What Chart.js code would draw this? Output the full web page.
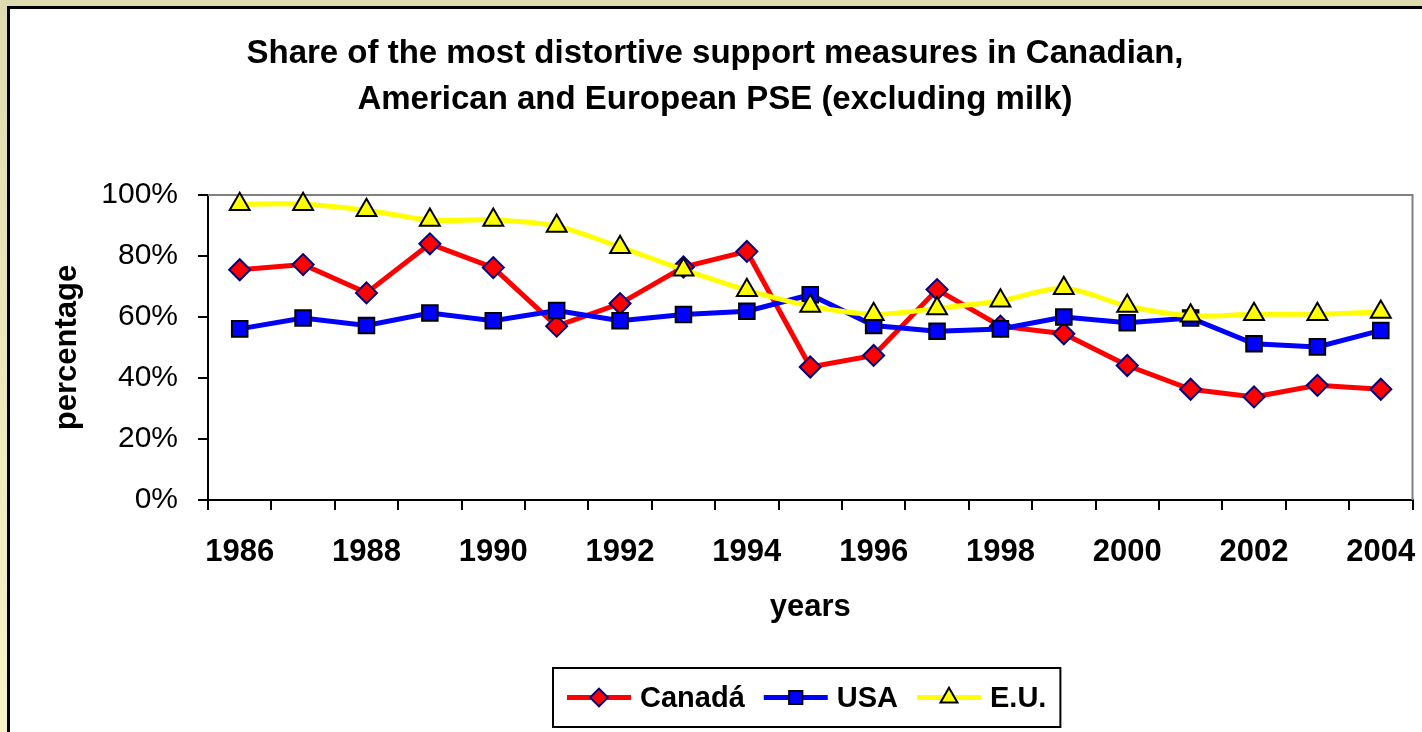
<!DOCTYPE html>
<html>
<head>
<meta charset="utf-8">
<script src="https://cdn.jsdelivr.net/npm/chart.js@4/dist/chart.umd.min.js"></script>
<style>
  html, body { margin: 0; padding: 0; overflow: hidden; }
  body { width: 1422px; height: 732px; background: linear-gradient(#dfdbb0, #f6f4c8); }
  #panel { position: absolute; left: 7px; top: 6px; width: 1440px; height: 760px; background: #fff; border: 3px solid #000; }
  #chart { position: absolute; left: 0; top: 0; }
</style>
</head>
<body>
<div id="panel"><canvas id="chart" width="1416" height="723"></canvas></div>
<script>
const years = ['1986', '1987', '1988', '1989', '1990', '1991', '1992', '1993', '1994', '1995',
               '1996', '1997', '1998', '1999', '2000', '2001', '2002', '2003', '2004'];
const canada = [75.5, 77.2, 67.9, 84.0, 76.2, 57.0, 64.4, 76.4, 81.5, 43.6,
                47.4, 69.0, 57.0, 54.5, 44.1, 36.3, 33.8, 37.6, 36.3];
const usa = [56.1, 59.7, 57.2, 61.3, 58.8, 62.1, 58.8, 60.8, 61.9, 67.3,
             57.2, 55.3, 56.1, 60.0, 58.1, 59.7, 51.2, 50.2, 55.6];
const eu = [97.0, 97.0, 95.0, 91.8, 91.8, 89.8, 82.9, 75.5, 68.8, 63.6,
            60.9, 62.8, 65.3, 69.4, 63.6, 60.4, 60.9, 60.9, 61.6];

const FONT = '"Liberation Sans", Arial, sans-serif';

// bordure grise du plot area (haut et droite), les axes noirs passent par-dessus
const plotBorder = {
  id: 'plotBorder',
  beforeDatasetsDraw(chart) {
    const {ctx, chartArea: a} = chart;
    ctx.save();
    ctx.strokeStyle = '#808080';
    ctx.lineWidth = 2;
    ctx.beginPath();
    ctx.moveTo(a.left, a.top);
    ctx.lineTo(a.right, a.top);
    ctx.lineTo(a.right, a.bottom);
    ctx.stroke();
    ctx.restore();
  }
};

// légende encadrée façon Excel : ligne + marqueur + texte
const boxLegend = {
  id: 'boxLegend',
  afterDraw(chart) {
    const ctx = chart.ctx;
    const lineLen = 64, gapText = 9, gapItem = 19, pad = 14, boxH = 59;
    ctx.save();
    ctx.font = 'bold 29px ' + FONT;
    const items = chart.data.datasets.map(ds => ({ds, w: ctx.measureText(ds.label).width}));
    const total = items.reduce((s, it) => s + lineLen + gapText + it.w, 0) + gapItem * (items.length - 1);
    const boxW = total + pad * 2;
    const cx = (chart.chartArea.left + chart.chartArea.right) / 2 - 4;
    const left = Math.round(cx - boxW / 2);
    const top = chart.height - 64;
    ctx.fillStyle = '#fff';
    ctx.fillRect(left, top, boxW, boxH);
    ctx.strokeStyle = '#000';
    ctx.lineWidth = 2;
    ctx.strokeRect(left, top, boxW, boxH);
    const cy = top + boxH / 2;
    let x = left + pad;
    items.forEach(({ds, w}) => {
      ctx.strokeStyle = ds.borderColor;
      ctx.lineWidth = ds.borderWidth;
      ctx.beginPath();
      ctx.moveTo(x, cy);
      ctx.lineTo(x + lineLen, cy);
      ctx.stroke();
      ctx.fillStyle = ds.pointBackgroundColor;
      ctx.strokeStyle = ds.pointBorderColor;
      ctx.lineWidth = ds.pointBorderWidth;
      Chart.helpers.drawPoint(ctx, {
        pointStyle: ds.pointStyle, radius: ds.pointRadius * 0.85, rotation: 0, borderWidth: ds.pointBorderWidth
      }, x + lineLen / 2, cy);
      ctx.fillStyle = '#000';
      ctx.textBaseline = 'middle';
      ctx.textAlign = 'left';
      ctx.fillText(ds.label, x + lineLen + gapText, cy + 1);
      x += lineLen + gapText + w + gapItem;
    });
    ctx.restore();
  }
};

new Chart(document.getElementById('chart'), {
  type: 'line',
  data: {
    labels: years,
    datasets: [{
      label: 'Canadá',
      data: canada,
      borderColor: '#ff0000',
      borderWidth: 5,
      tension: 0,
      pointStyle: 'rectRot',
      pointRadius: 10.5,
      pointBackgroundColor: '#ff0000',
      pointBorderColor: '#000080',
      pointBorderWidth: 2,
      order: 3
    }, {
      label: 'USA',
      data: usa,
      borderColor: '#0000ff',
      borderWidth: 5,
      tension: 0,
      pointStyle: 'rect',
      pointRadius: 11,
      pointBackgroundColor: '#0000ff',
      pointBorderColor: '#000',
      pointBorderWidth: 2,
      order: 2
    }, {
      label: 'E.U.',
      data: eu,
      borderColor: '#ffff00',
      borderWidth: 5,
      tension: 0.3,
      pointStyle: 'triangle',
      pointRadius: 11.5,
      pointBackgroundColor: '#ffff00',
      pointBorderColor: '#000',
      pointBorderWidth: 2,
      order: 1
    }]
  },
  options: {
    responsive: false,
    devicePixelRatio: 1,
    animation: false,
    clip: false,
    layout: { padding: { left: 0, right: 6, top: 0, bottom: 106 } },
    plugins: {
      legend: { display: false },
      tooltip: { enabled: false },
      title: {
        display: true,
        text: ['Share of the most distortive support measures in Canadian,',
               'American and European PSE (excluding milk)'],
        color: '#000',
        font: { family: FONT, size: 33, weight: 'bold', lineHeight: 1.4 },
        padding: { top: 22, bottom: 71.6 }
      }
    },
    scales: {
      x: {
        offset: true,
        afterFit(scale) { scale.height = 126; scale.paddingLeft = 0; scale.paddingRight = 0; },
        border: { color: '#000', width: 2 },
        grid: { offset: true, drawOnChartArea: false, color: '#000', lineWidth: 2, tickLength: 10 },
        ticks: {
          autoSkip: false,
          maxRotation: 0,
          padding: 24,
          color: '#000',
          font: { family: FONT, size: 31, weight: 'bold' },
          callback(value, index) { return index % 2 === 0 ? this.getLabelForValue(value) : ''; }
        },
        title: {
          display: true,
          text: 'years',
          color: '#000',
          font: { family: FONT, size: 31, weight: 'bold' },
          padding: { top: 0, bottom: 0 }
        }
      },
      y: {
        min: 0,
        max: 100,
        afterFit(scale) { scale.width = 198; scale.paddingTop = 0; scale.paddingBottom = 0; },
        border: { color: '#000', width: 2 },
        grid: { drawOnChartArea: false, color: '#000', lineWidth: 2, tickLength: 10 },
        ticks: {
          stepSize: 20,
          padding: 20,
          color: '#000',
          font: { family: FONT, size: 30 },
          callback: v => v + '%'
        },
        title: {
          display: true,
          text: 'percentage',
          color: '#000',
          font: { family: FONT, size: 31, weight: 'bold' },
          padding: { top: 39, bottom: 0 }
        }
      }
    }
  },
  plugins: [plotBorder, boxLegend]
});
</script>
</body>
</html>
